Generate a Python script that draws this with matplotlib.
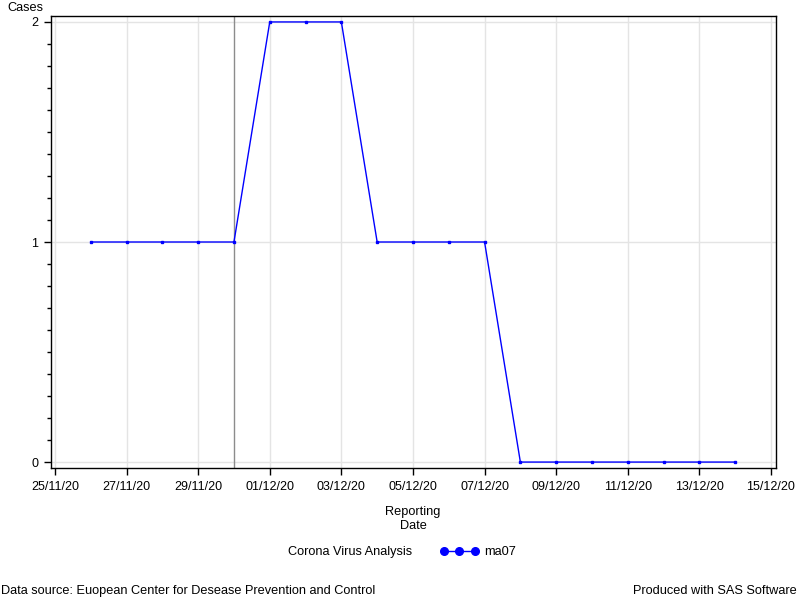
import numpy as np
import pandas as pd
import matplotlib
matplotlib.use("Agg")
import matplotlib.pyplot as plt
import matplotlib.dates as mdates
from matplotlib.ticker import MultipleLocator, FixedLocator
from matplotlib.lines import Line2D

plt.rcParams['font.family'] = ['Liberation Sans', 'DejaVu Sans']

# data
report_dates = pd.date_range('2020-11-26', '2020-12-14', freq='D')
ma07 = [1, 1, 1, 1, 1, 2, 2, 2, 1, 1, 1, 1, 0, 0, 0, 0, 0, 0, 0]
ref_date = pd.Timestamp('2020-11-30')
tick_dates = pd.date_range('2020-11-25', '2020-12-15', freq='2D')
y_ticks = [0, 1, 2]

fig = plt.figure(figsize=(8, 6), dpi=100)
ax = fig.add_axes([51 / 800, 1 - 468 / 600, 725 / 800, 452 / 600])

ax.plot(report_dates, ma07, color='#0000ff', lw=1, marker='s', ms=1.6, zorder=3)
ax.axvline(ref_date, color='#8c8c8c', lw=1, zorder=2)

ax.xaxis.set_major_locator(FixedLocator(mdates.date2num(tick_dates)))
ax.xaxis.set_major_formatter(mdates.DateFormatter('%d/%m/%y'))
ax.set_yticks(y_ticks)
ax.yaxis.set_minor_locator(MultipleLocator(0.1))

day = pd.Timedelta(days=1)
ax.set_xlim(tick_dates[0] - 0.11 * day, tick_dates[-1] + 0.14 * day)
ax.set_ylim(-0.027, 2.027)

ax.grid(True, which='major', color='#e4e4e4', lw=1, zorder=0)
ax.set_axisbelow(True)
for s in ax.spines.values():
    s.set_color('black')
    s.set_linewidth(1)
ax.tick_params(which='major', direction='out', length=5, width=1, labelsize=9, pad=4)
ax.tick_params(axis='y', which='minor', direction='out', length=3, width=1)
ax.tick_params(axis='x', which='minor', length=0)

fig.text(7 / 800, 1 - 8 / 600, 'Cases', fontsize=9.2, va='center', ha='left')
fig.text(413 / 800, 1 - 519 / 600, 'Reporting\nDate', fontsize=9.2, ha='center', va='center',
         linespacing=1.2)

fig.text(288 / 800, 1 - 552 / 600, 'Corona Virus Analysis', fontsize=9.2, va='center', ha='left')
handle = Line2D([], [], color='#0000ff', lw=1, marker='o', ms=5.5)
fig.legend([handle], ['ma07'], loc='center left', bbox_to_anchor=(440 / 800, 1 - 552 / 600),
           frameon=False, numpoints=3, handlelength=3.0, handletextpad=0.45, fontsize=9.2,
           borderaxespad=0, borderpad=0)

fig.text(1 / 800, 1 - 591 / 600, 'Data source: Euopean Center for Desease Prevention and Control',
         fontsize=9.2, va='center', ha='left')
fig.text(797 / 800, 1 - 591 / 600, 'Produced with SAS Software', fontsize=9.2, va='center', ha='right')

fig.savefig('out.png', dpi=100)
